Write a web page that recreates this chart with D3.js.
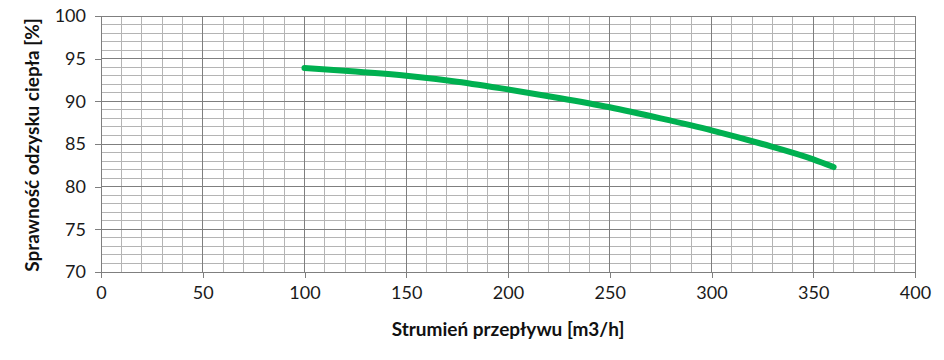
<!DOCTYPE html>
<html>
<head>
<meta charset="utf-8">
<script src="https://cdn.jsdelivr.net/npm/d3@7"></script>
<style>
  body { margin: 0; background: #fff; }
  text { font-family: Lato, "Open Sans", sans-serif; }
</style>
</head>
<body>
<div id="chart"></div>
<script>
const flow = [100, 125, 150, 175, 200, 225, 250, 275, 300, 325, 350, 360];
const efficiency = [93.9, 93.5, 93.0, 92.3, 91.4, 90.4, 89.3, 88.0, 86.6, 85.0, 83.2, 82.3];
const xTicks = [0, 50, 100, 150, 200, 250, 300, 350, 400];
const yTicks = [70, 75, 80, 85, 90, 95, 100];

const width = 944;
const height = 360;
const marginLeft = 101;
const marginRight = 29;
const marginTop = 16;
const marginBottom = 88;

const svg = (
    d3.select("#chart")
    .append("svg")
    .attr("width", width)
    .attr("height", height)
);

const xScale = d3.scaleLinear().domain([0, 400]).range([marginLeft, width - marginRight]);
const yScale = d3.scaleLinear().domain([70, 100]).range([height - marginBottom, marginTop]);

// minor grid
const minorX = d3.range(0, 401, 10).filter((d) => d % 50 !== 0);
const minorY = d3.range(70, 101, 1).filter((d) => d % 5 !== 0);
const grid = svg.append("g").attr("shape-rendering", "crispEdges");
grid.selectAll(".mx").data(minorX).join("line")
    .attr("x1", (d) => xScale(d)).attr("x2", (d) => xScale(d))
    .attr("y1", yScale(70)).attr("y2", yScale(100))
    .attr("stroke", "#b4b4b4");
grid.selectAll(".my").data(minorY).join("line")
    .attr("y1", (d) => yScale(d)).attr("y2", (d) => yScale(d))
    .attr("x1", xScale(0)).attr("x2", xScale(400))
    .attr("stroke", "#b4b4b4");
// major grid
grid.selectAll(".Mx").data(xTicks).join("line")
    .attr("x1", (d) => xScale(d)).attr("x2", (d) => xScale(d))
    .attr("y1", yScale(70)).attr("y2", yScale(100))
    .attr("stroke", "#7f7f7f");
grid.selectAll(".My").data(yTicks).join("line")
    .attr("y1", (d) => yScale(d)).attr("y2", (d) => yScale(d))
    .attr("x1", xScale(0)).attr("x2", xScale(400))
    .attr("stroke", "#7f7f7f");

const xAxis = d3.axisBottom(xScale).tickValues(xTicks).tickSize(6).tickPadding(8);
const gx = (
    svg.append("g")
    .attr("transform", `translate(0, ${yScale(70)})`)
    .call(xAxis)
);
const yAxis = d3.axisLeft(yScale).tickValues(yTicks).tickSize(6).tickPadding(9);
const gy = (
    svg.append("g")
    .attr("transform", `translate(${xScale(0)}, 0)`)
    .call(yAxis)
);
[gx, gy].forEach((g) => {
    g.attr("shape-rendering", "crispEdges");
    g.select(".domain").attr("stroke", "#7f7f7f");
    g.selectAll(".tick line").attr("stroke", "#7f7f7f");
    g.selectAll(".tick text")
        .attr("font-family", "Lato, 'Open Sans', sans-serif")
        .attr("font-size", 18)
        .attr("fill", "#1a1a1a");
});

const line = d3.line()
    .x((d, i) => xScale(flow[i]))
    .y((d) => yScale(d))
    .curve(d3.curveMonotoneX);
(
    svg.append("path")
    .datum(efficiency)
    .attr("d", line)
    .attr("fill", "none")
    .attr("stroke", "#00b050")
    .attr("stroke-width", 6)
    .attr("stroke-linecap", "round")
);

(
    svg.append("text")
    .attr("x", xScale(200))
    .attr("y", 336)
    .attr("text-anchor", "middle")
    .attr("font-size", 19)
    .attr("font-weight", "bold")
    .attr("fill", "#111")
    .text("Strumień przepływu [m3/h]")
);
(
    svg.append("text")
    .attr("transform", `translate(39, ${yScale(85) + 1}) rotate(-90)`)
    .attr("text-anchor", "middle")
    .attr("font-size", 19)
    .attr("font-weight", "bold")
    .attr("fill", "#111")
    .text("Sprawność odzysku ciepła [%]")
);
</script>
</body>
</html>
